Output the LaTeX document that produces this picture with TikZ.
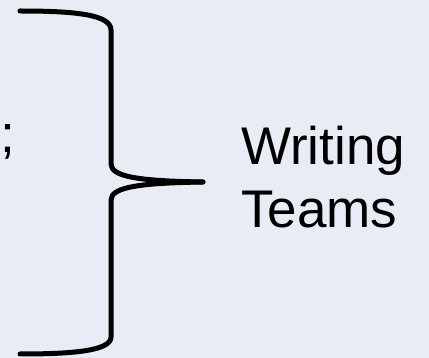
\documentclass[tikz,border=0pt]{standalone}
\usepackage{fontspec}
\setmainfont{Liberation Sans}
\definecolor{bgblue}{RGB}{232,236,244}
\tikzset{
  bracestroke/.style={line width=5pt, line cap=round, line join=round, draw=black},
  bigtext/.style={inner sep=0pt, anchor=base west, font=\fontsize{53}{63}\selectfont, text=black}
}
\begin{document}
\begin{tikzpicture}[x=1pt, y=-1pt]
\fill[bgblue] (0,0) rectangle (429,358);
\useasboundingbox (0,0) rectangle (429,358);
% brace
\draw[bracestroke] (20,11) .. controls (72,11) and (111,14) .. (111,30)
  -- (111,164) .. controls (111,177) and (140,181) .. (203,182);
\draw[bracestroke] (203,182) .. controls (140,183) and (111,187) .. (111,200)
  -- (111,337) .. controls (111,351) and (72,354) .. (20,354);
% clipped semicolon at left edge
\node[bigtext] (semi) at (0,153) {;};
% label
\node[bigtext] (writing) at (241,165) {Writing};
\node[bigtext] (teams) at (241,228) {Teams};
\end{tikzpicture}
\end{document}
